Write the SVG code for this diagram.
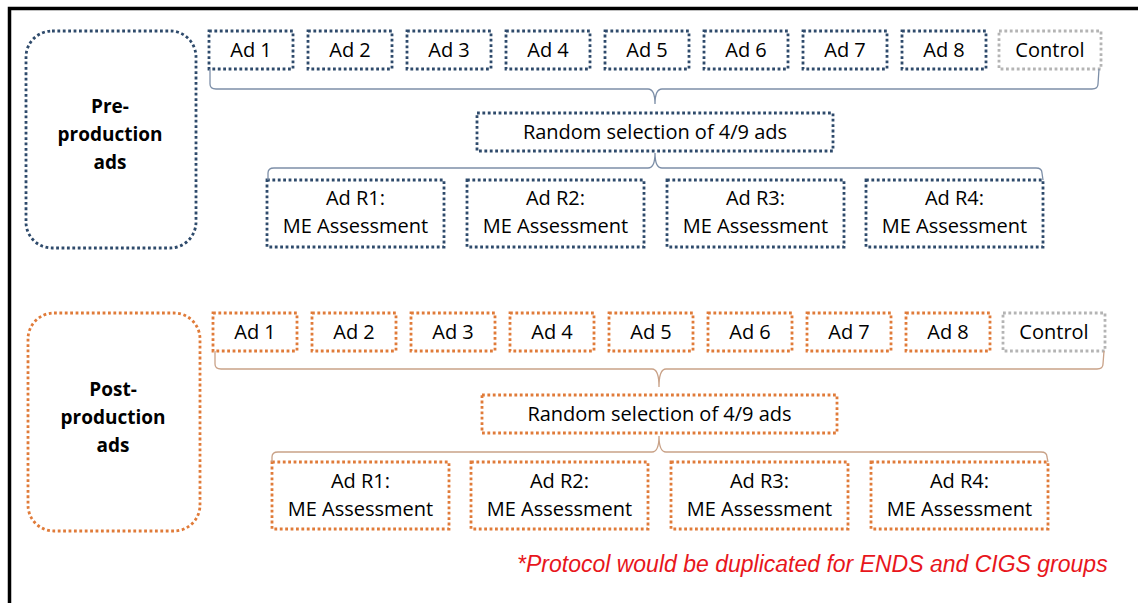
<svg xmlns="http://www.w3.org/2000/svg" width="1138" height="603" viewBox="0 0 1138 603">
<style>
  .bg{fill:#ffffff}
  .frame{fill:none;stroke:#000000;stroke-width:3.5}
  .b{fill:#ffffff;stroke:#2e4a6b;stroke-width:2.8;stroke-dasharray:2.8 2.6}
  .o{fill:#ffffff;stroke:#e07b39;stroke-width:2.8;stroke-dasharray:2.8 2.6}
  .g{fill:#ffffff;stroke:#b4b4b4;stroke-width:2.8;stroke-dasharray:2.8 2.6}
  .t{font-family:"Open Sans","Noto Sans","Liberation Sans",sans-serif;font-size:20px;fill:#000000;text-anchor:middle}
  .h{font-family:"Open Sans","Noto Sans","Liberation Sans",sans-serif;font-size:19px;font-weight:bold;fill:#000000;text-anchor:middle}
  .note{font-family:"Liberation Sans",Arial,sans-serif;font-size:23px;font-style:italic;fill:#e8161c}
  .braceB{fill:none;stroke:#7d8fa8;stroke-width:1.3}
  .braceO{fill:none;stroke:#c9a288;stroke-width:1.3}
</style>
<rect class="bg" x="0" y="0" width="1138" height="603"/>
<path class="frame" d="M9.5 603 L9.5 8.5 L1138 8.5"/>

<!-- Pre-production section -->
<g id="pre-label">
  <rect class="b" x="26" y="31" width="170" height="217" rx="26"/>
  <text class="h" x="110" y="113">Pre-</text>
  <text class="h" x="110" y="141">production</text>
  <text class="h" x="110" y="169">ads</text>
</g>
<g id="pre-ad1"><rect class="b" x="209" y="31" width="84" height="38"/><text class="t" x="251" y="57">Ad 1</text></g>
<g id="pre-ad2"><rect class="b" x="308" y="31" width="84" height="38"/><text class="t" x="350" y="57">Ad 2</text></g>
<g id="pre-ad3"><rect class="b" x="407" y="31" width="84" height="38"/><text class="t" x="449" y="57">Ad 3</text></g>
<g id="pre-ad4"><rect class="b" x="506" y="31" width="84" height="38"/><text class="t" x="548" y="57">Ad 4</text></g>
<g id="pre-ad5"><rect class="b" x="605" y="31" width="84" height="38"/><text class="t" x="647" y="57">Ad 5</text></g>
<g id="pre-ad6"><rect class="b" x="704" y="31" width="84" height="38"/><text class="t" x="746" y="57">Ad 6</text></g>
<g id="pre-ad7"><rect class="b" x="803" y="31" width="84" height="38"/><text class="t" x="845" y="57">Ad 7</text></g>
<g id="pre-ad8"><rect class="b" x="902" y="31" width="84" height="38"/><text class="t" x="944" y="57">Ad 8</text></g>
<g id="pre-control"><rect class="g" x="999" y="31" width="102" height="38"/><text class="t" x="1050" y="57">Control</text></g>
<g id="pre-random"><rect class="b" x="477" y="113" width="356" height="38"/><text class="t" x="655" y="139">Random selection of 4/9 ads</text></g>
<g id="pre-r1"><rect class="b" x="267" y="180" width="177" height="67"/><text class="t" x="355.5" y="205">Ad R1:</text><text class="t" x="355.5" y="233">ME Assessment</text></g>
<g id="pre-r2"><rect class="b" x="467" y="180" width="177" height="67"/><text class="t" x="555.5" y="205">Ad R2:</text><text class="t" x="555.5" y="233">ME Assessment</text></g>
<g id="pre-r3"><rect class="b" x="667" y="180" width="177" height="67"/><text class="t" x="755.5" y="205">Ad R3:</text><text class="t" x="755.5" y="233">ME Assessment</text></g>
<g id="pre-r4"><rect class="b" x="866" y="180" width="177" height="67"/><text class="t" x="954.5" y="205">Ad R4:</text><text class="t" x="954.5" y="233">ME Assessment</text></g>

<!-- Post-production section -->
<g id="post-label">
  <rect class="o" x="28" y="313" width="172" height="218" rx="26"/>
  <text class="h" x="113" y="396">Post-</text>
  <text class="h" x="113" y="424">production</text>
  <text class="h" x="113" y="452">ads</text>
</g>
<g id="post-ad1"><rect class="o" x="213" y="313" width="84" height="38"/><text class="t" x="255" y="339">Ad 1</text></g>
<g id="post-ad2"><rect class="o" x="312" y="313" width="84" height="38"/><text class="t" x="354" y="339">Ad 2</text></g>
<g id="post-ad3"><rect class="o" x="411" y="313" width="84" height="38"/><text class="t" x="453" y="339">Ad 3</text></g>
<g id="post-ad4"><rect class="o" x="510" y="313" width="84" height="38"/><text class="t" x="552" y="339">Ad 4</text></g>
<g id="post-ad5"><rect class="o" x="609" y="313" width="84" height="38"/><text class="t" x="651" y="339">Ad 5</text></g>
<g id="post-ad6"><rect class="o" x="708" y="313" width="84" height="38"/><text class="t" x="750" y="339">Ad 6</text></g>
<g id="post-ad7"><rect class="o" x="807" y="313" width="84" height="38"/><text class="t" x="849" y="339">Ad 7</text></g>
<g id="post-ad8"><rect class="o" x="906" y="313" width="84" height="38"/><text class="t" x="948" y="339">Ad 8</text></g>
<g id="post-control"><rect class="g" x="1003" y="313" width="102" height="38"/><text class="t" x="1054" y="339">Control</text></g>
<g id="post-random"><rect class="o" x="482" y="395" width="355" height="38"/><text class="t" x="659.5" y="421">Random selection of 4/9 ads</text></g>
<g id="post-r1"><rect class="o" x="272" y="462" width="177" height="67"/><text class="t" x="360.5" y="488">Ad R1:</text><text class="t" x="360.5" y="516">ME Assessment</text></g>
<g id="post-r2"><rect class="o" x="471" y="462" width="177" height="67"/><text class="t" x="559.5" y="488">Ad R2:</text><text class="t" x="559.5" y="516">ME Assessment</text></g>
<g id="post-r3"><rect class="o" x="671" y="462" width="177" height="67"/><text class="t" x="759.5" y="488">Ad R3:</text><text class="t" x="759.5" y="516">ME Assessment</text></g>
<g id="post-r4"><rect class="o" x="871" y="462" width="177" height="67"/><text class="t" x="959.5" y="488">Ad R4:</text><text class="t" x="959.5" y="516">ME Assessment</text></g>

<!-- connectors (braces) -->
<g id="connectors">
  <path class="braceB" d="M210 69 L210 84 Q210 89 216 89 L648 89 Q655 89 655 104 Q655 89 662 89 L1092 89 Q1098 89 1098 84 L1099 69"/>
  <path class="braceB" d="M268 180 L268 173 Q268 168 274 168 L648 168 Q655 168 655 153 Q655 168 662 168 L1036 168 Q1042 168 1042 173 L1043 180"/>
  <path class="braceO" d="M215 351 L215 364 Q215 369 221 369 L652 369 Q659 369 659 387 Q659 369 666 369 L1097 369 Q1103 369 1103 364 L1104 351"/>
  <path class="braceO" d="M272 462 L272 457 Q272 452 278 452 L652 452 Q659 452 659 436 Q659 452 666 452 L1041 452 Q1047 452 1047 457 L1048 462"/>
</g>

<text class="note" x="517" y="572">*Protocol would be duplicated for ENDS and CIGS groups</text>
</svg>
